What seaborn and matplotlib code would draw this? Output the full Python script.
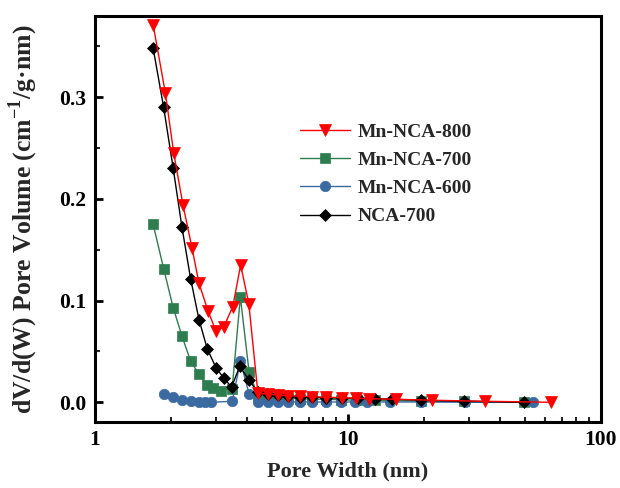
import matplotlib
matplotlib.use("Agg")
import matplotlib.pyplot as plt
import seaborn as sns
import numpy as np
import pandas as pd
from matplotlib.ticker import MultipleLocator, FixedLocator, LogLocator, NullFormatter

# ---- data ----
x_800 = [1.70, 1.90, 2.05, 2.23, 2.42, 2.58, 2.80, 3.01, 3.23, 3.51, 3.77, 4.06,
         4.41, 4.83, 5.29, 5.79, 6.46, 7.21, 8.19, 9.47, 10.8, 12.1, 15.5, 21.5, 34.8, 63.5]
y_800 = [0.371, 0.304, 0.245, 0.194, 0.152, 0.117, 0.090, 0.070, 0.074, 0.094, 0.135, 0.097,
         0.009, 0.008, 0.007, 0.0065, 0.006, 0.0055, 0.005, 0.0045, 0.004, 0.0035, 0.003, 0.002, 0.001, 0.0]

x_700 = [1.70, 1.87, 2.04, 2.21, 2.39, 2.58, 2.78, 2.94, 3.15, 3.49, 3.76, 4.07,
         4.41, 4.83, 5.29, 5.79, 6.46, 7.21, 8.19, 9.40, 10.9, 12.8, 19.4, 28.7, 49.6]
y_700 = [0.175, 0.1315, 0.093, 0.065, 0.0406, 0.0275, 0.0167, 0.0144, 0.0108, 0.0135, 0.1035, 0.030,
         0.006, 0.005, 0.0045, 0.004, 0.0035, 0.003, 0.003, 0.0025, 0.002, 0.002, 0.001, 0.001, 0.0]

x_600 = [1.87, 2.04, 2.21, 2.39, 2.58, 2.72, 2.87, 3.49, 3.76, 4.07,
         4.41, 4.83, 5.29, 5.79, 6.46, 7.21, 8.19, 9.38, 10.66, 11.9, 14.7, 19.4, 29.0, 53.8]
y_600 = [0.0079, 0.0052, 0.0026, 0.0013, 0.0003, 0.0, 0.0, 0.001, 0.0403, 0.0085,
         0.0003, 0.0003, 0.0003, 0.0003, 0.0003, 0.0003, 0.0003, 0.0003, 0.0003, 0.0003, 0.0003, 0.0003, 0.0, 0.0]

x_nca = [1.70, 1.87, 2.04, 2.21, 2.39, 2.58, 2.78, 3.01, 3.23, 3.47, 3.74, 4.05,
         4.41, 4.83, 5.29, 5.79, 6.46, 7.21, 8.19, 9.47, 10.95, 12.8, 14.9, 19.4, 28.7, 49.6]
y_nca = [0.348, 0.290, 0.230, 0.172, 0.1216, 0.0813, 0.0528, 0.0341, 0.0239, 0.015, 0.0354, 0.0223,
         0.010, 0.008, 0.007, 0.006, 0.0055, 0.005, 0.0045, 0.004, 0.004, 0.0035, 0.003, 0.002, 0.001, 0.0]

labels = ["Mn-NCA-800", "Mn-NCA-700", "Mn-NCA-600", "NCA-700"]
x_ticks = [1, 10, 100]
x_ticklabels = ["1", "10", "100"]
y_ticks = [0.0, 0.1, 0.2, 0.3]

# ---- style ----
sns.set_theme(style="ticks")
plt.rcParams["font.family"] = ["Liberation Serif", "DejaVu Serif"]
plt.rcParams["font.weight"] = "bold"
plt.rcParams["mathtext.fontset"] = "custom"
plt.rcParams["mathtext.rm"] = "Liberation Serif:bold"
plt.rcParams["mathtext.bf"] = "Liberation Serif:bold"

fig = plt.figure(figsize=(6.2, 4.88), dpi=100)
ax = fig.add_axes([0.153, 0.135, 0.816, 0.832])

series = [
    (labels[1], x_700, y_700, "s", "#2e7d4f", 6.5),
    (labels[2], x_600, y_600, "o", "#3a6aa0", 7.5),
    (labels[3], x_nca, y_nca, "D", "#000000", 6.2),
    (labels[0], x_800, y_800, "v", "#ff0000", 9.0),
]
for lab, xs, ys, mk, col, ms in series:
    df = pd.DataFrame({"x": xs, "y": ys})
    sns.lineplot(data=df, x="x", y="y", ax=ax, color=col, marker=mk, markersize=ms,
                 markeredgecolor=col, markeredgewidth=0.5, linewidth=1.0,
                 label=lab, estimator=None, sort=False)

ax.set_xscale("log")
ax.set_xlim(1, 100)
ax.set_ylim(-0.0195, 0.3796)
ax.xaxis.set_major_locator(FixedLocator(x_ticks))
ax.set_xticklabels(x_ticklabels)
ax.xaxis.set_minor_locator(LogLocator(base=10, subs=np.arange(2, 10)))
ax.xaxis.set_minor_formatter(NullFormatter())
ax.yaxis.set_major_locator(FixedLocator(y_ticks))
ax.set_yticklabels([f"{v:.1f}" for v in y_ticks])
ax.yaxis.set_minor_locator(MultipleLocator(0.05))

for s in ax.spines.values():
    s.set_linewidth(2.2)
    s.set_color("black")
ax.tick_params(which="major", direction="in", length=6, width=2, labelsize=15.5,
               top=False, right=False, colors="black", pad=6)
ax.tick_params(which="minor", direction="in", length=3.5, width=1.5,
               top=False, right=False)
for lbl in ax.get_xticklabels() + ax.get_yticklabels():
    lbl.set_fontweight("bold")

ax.set_xlabel("Pore Width (nm)", fontsize=16, fontweight="bold", labelpad=8)
ax.set_ylabel("dV/d(W) Pore Volume (cm$^{-1}$/g·nm)", fontsize=18.5, fontweight="bold", labelpad=14)

h, l = ax.get_legend_handles_labels()
order = [l.index(n) for n in labels]
leg = ax.legend([h[i] for i in order], [l[i] for i in order], loc="upper left",
                bbox_to_anchor=(0.37, 0.78), frameon=False,
                prop={"weight": "bold", "size": 14, "family": "Liberation Serif"},
                handlelength=2.6, labelspacing=0.55, handletextpad=0.4)

fig.savefig("out.png", dpi=100)
